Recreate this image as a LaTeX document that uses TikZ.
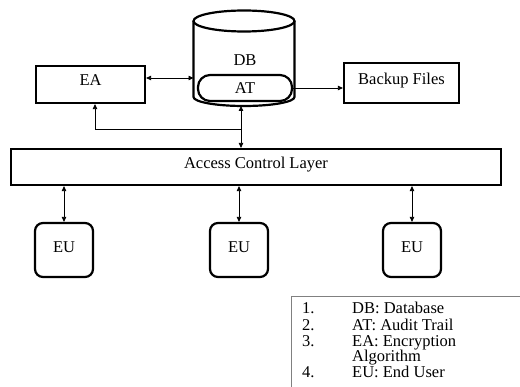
\documentclass[tikz,border=0pt]{standalone}
\usepackage{fontspec}
\setmainfont{Liberation Serif}
\usetikzlibrary{arrows.meta}

\tikzset{
  box/.style={draw, line width=2.2pt, inner sep=0pt, text depth=8pt},
  eubox/.style={box, rounded corners=8pt, minimum width=58pt, minimum height=54pt, text depth=6pt},
  link/.style={line width=0.8pt, >={Triangle[length=5pt,width=4.5pt]}},
  item/.style={anchor=base west, inner sep=0pt}
}

\begin{document}
\begin{tikzpicture}[x=1pt, y=-1pt, font=\fontsize{16.5pt}{18pt}\selectfont]
\useasboundingbox (0,0) rectangle (520,387);

% Database cylinder
\draw[line width=2.2pt] (244,21) ellipse [x radius=50.5pt, y radius=10.5pt];
\draw[line width=2.2pt] (193.5,21) -- (193.5,97) arc [start angle=180, end angle=360, x radius=50.5pt, y radius=9pt] -- (294.5,21);
\node (db) at (245,60) {DB};
\node[box, rounded corners=12pt, minimum width=94pt, minimum height=26pt, text depth=0pt] (at) at (245,88) {AT};
\coordinate (dbw) at (193.5,78);
\coordinate (dbs) at (241,106);
\coordinate (jn) at (241,129);

% Top row
\node[box, minimum width=109pt, minimum height=37pt] (ea) at (90.5,84.5) {EA};
\node[box, minimum width=115pt, minimum height=40pt] (bkp) at (401.5,83) {Backup Files};

% Access layer
\node[box, minimum width=490pt, minimum height=36pt] (acl) at (256,167) {Access Control Layer};

% End users
\node[eubox] (eu1) at (64,250) {EU};
\node[eubox] (eu2) at (239,250) {EU};
\node[eubox] (eu3) at (412,250) {EU};

% Connectors
\draw[link, <->] (ea.east |- dbw) -- (dbw);
\draw[link, ->] (at.east) -- (at.east -| bkp.west);
\draw[link, <->] (acl.north -| dbs) -- (dbs);
\draw[link, ->] (jn) -| ([xshift=4.5pt]ea.south);
\draw[link, <->] (eu1.north) -- (eu1.north |- acl.south);
\draw[link, <->] (eu2.north) -- (eu2.north |- acl.south);
\draw[link, <->] (eu3.north) -- (eu3.north |- acl.south);

% Legend
\draw[gray, line width=1pt] (291,395) |- (525,297);
\node[item] (n1) at (302,314) {1.};
\node[item] (t1) at (352,314) {DB: Database};
\node[item] (n2) at (302,331) {2.};
\node[item] (t2) at (352,331) {AT: Audit Trail};
\node[item] (n3) at (302,347) {3.};
\node[item] (t3) at (352,347) {EA: Encryption};
\node[item] (t3b) at (352,362) {Algorithm};
\node[item] (n4) at (302,378) {4.};
\node[item] (t4) at (352,378) {EU: End User};

\end{tikzpicture}
\end{document}
